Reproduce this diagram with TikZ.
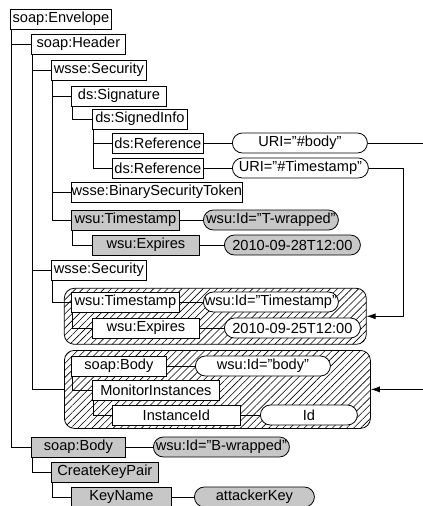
\documentclass[tikz,border=0pt]{standalone}
\usepackage{fontspec}
\setmainfont{Liberation Sans}
\usetikzlibrary{patterns.meta,arrows.meta}
\begin{document}
\begin{tikzpicture}[x=1pt,y=-1pt,
  box/.style={draw, fill=white, line width=0.8pt, minimum height=20pt, inner sep=0pt, anchor=west,
    font=\fontsize{14.6}{16}\selectfont},
  gbox/.style={box, fill=black!22},
  pill/.style={box, rounded corners=10pt},
  gpill/.style={pill, fill=black!22},
  hatch/.style={draw, line width=0.8pt, rounded corners=10pt, inner sep=0pt, anchor=north west,
    pattern={Lines[angle=45,distance=5pt,line width=0.6pt]}},
  conn/.style={draw, line width=0.8pt},
  arr/.style={conn, -{Latex[length=9pt,width=6pt]}}]
\useasboundingbox (0,0) rectangle (423,506);
% hatched groups
\node[hatch, minimum width=302pt, minimum height=56pt] (hb1) at (64,288) {};
\node[hatch, minimum width=306pt, minimum height=78pt] (hb2) at (64,350) {};
% element boxes
\node[box, minimum width=101pt] (env) at (10,19) {soap:Envelope};
\node[box, minimum width=94pt] (hdr) at (31,44) {soap:Header};
\node[box, minimum width=95pt] (sec1) at (51,70) {wsse:Security};
\node[box, minimum width=95pt] (sig) at (71,96) {ds:Signature};
\node[box, minimum width=95pt] (si) at (92,119) {ds:SignedInfo};
\node[box, minimum width=91pt] (ref1) at (112,143) {ds:Reference};
\node[box, minimum width=91pt] (ref2) at (112,168) {ds:Reference};
\node[box, minimum width=171pt] (bst) at (71,192) {wsse:BinarySecurityToken};
\node[gbox, minimum width=108pt] (ts1) at (71,220) {wsu:Timestamp};
\node[gbox, minimum width=107pt] (exp1) at (92,245) {wsu:Expires};
\node[box, minimum width=95pt] (sec2) at (51,270) {wsse:Security};
\node[box, minimum width=108pt] (ts2) at (71,302) {wsu:Timestamp};
\node[box, minimum width=107pt] (exp2) at (92,328) {wsu:Expires};
\node[box, minimum width=95pt] (body) at (71,366) {soap:Body};
\node[box, minimum width=127pt] (mon) at (92,390) {MonitorInstances};
\node[box, minimum width=128pt] (iid) at (112,415) {InstanceId};
\node[gbox, minimum width=94pt] (gbody) at (31,447) {soap:Body};
\node[gbox, minimum width=107pt] (ckp) at (51,472) {CreateKeyPair};
\node[gbox, minimum width=100pt] (kn) at (71,497) {KeyName};
% attribute pills
\node[pill, minimum width=135pt] (uri1) at (232,143) {URI="\#body"};
\node[pill, minimum width=136pt] (uri2) at (232,168) {URI="\#Timestamp"};
\node[gpill, minimum width=135pt] (tid1) at (203,220) {wsu:Id="T-wrapped"};
\node[gpill, minimum width=136pt] (d1) at (224,245) {2010-09-28T12:00};
\node[pill, minimum width=135pt] (tid2) at (203,302) {wsu:Id="Timestamp"};
\node[pill, minimum width=136pt] (d2) at (224,328) {2010-09-25T12:00};
\node[pill, minimum width=135pt] (bid) at (195,366) {wsu:Id="body"};
\node[pill, minimum width=97pt] (idp) at (260,415) {Id};
\node[gpill, minimum width=136pt] (bw) at (153,447) {wsu:Id="B-wrapped"};
\node[gpill, minimum width=120pt] (ak) at (194,497) {attackerKey};
% free ends
\coordinate (redge) at (423,0);
\coordinate (vline) at (403,0);
% tree connectors
\draw[conn] ([xshift=1pt]env.south west) |- (hdr.west);
\draw[conn] ([xshift=1pt]env.south west) |- (gbody.west);
\draw[conn] ([xshift=1pt]hdr.south west) |- (sec1.west);
\draw[conn] ([xshift=1pt]hdr.south west) |- (sec2.west);
\draw[conn] ([xshift=1pt]hdr.south west) |- (hb2.west);
\draw[conn] ([xshift=1pt]sec1.south west) |- (sig.west);
\draw[conn] ([xshift=1pt]sec1.south west) |- (bst.west);
\draw[conn] ([xshift=1pt]sec1.south west) |- (ts1.west);
\draw[conn] ([xshift=1pt]sig.south west) |- (si.west);
\draw[conn] ([xshift=1pt]si.south west) |- (ref1.west);
\draw[conn] ([xshift=1pt]si.south west) |- (ref2.west);
\draw[conn] ([xshift=1pt]ts1.south west) |- (exp1.west);
\draw[conn] ([xshift=1pt]sec2.south west) |- (ts2.west);
\draw[conn] ([xshift=1pt]ts2.south west) |- (exp2.west);
\draw[conn] ([xshift=1pt]body.south west) |- (mon.west);
\draw[conn] ([xshift=1pt]mon.south west) |- (iid.west);
\draw[conn] ([xshift=1pt]gbody.south west) |- (ckp.west);
\draw[conn] ([xshift=1pt]ckp.south west) |- (kn.west);
% attribute connectors
\draw[conn] (ref1.east) -- (uri1.west);
\draw[conn] (ref2.east) -- (uri2.west);
\draw[conn] (ts1.east) -- (tid1.west);
\draw[conn] (exp1.east) -- (d1.west);
\draw[conn] (ts2.east) -- (tid2.west);
\draw[conn] (exp2.east) -- (d2.west);
\draw[conn] (body.east) -- (bid.west);
\draw[conn] (iid.east) -- (idp.west);
\draw[conn] (gbody.east) -- (bw.west);
\draw[conn] (kn.east) -- (ak.west);
% references
\draw[conn] (uri1.east) -- (uri1.east -| redge);
\draw[arr] (uri2.east) -- (uri2.east -| vline) |- (hb1.east);
\draw[arr] (hb2.east -| redge) -- (hb2.east);
\end{tikzpicture}
\end{document}
